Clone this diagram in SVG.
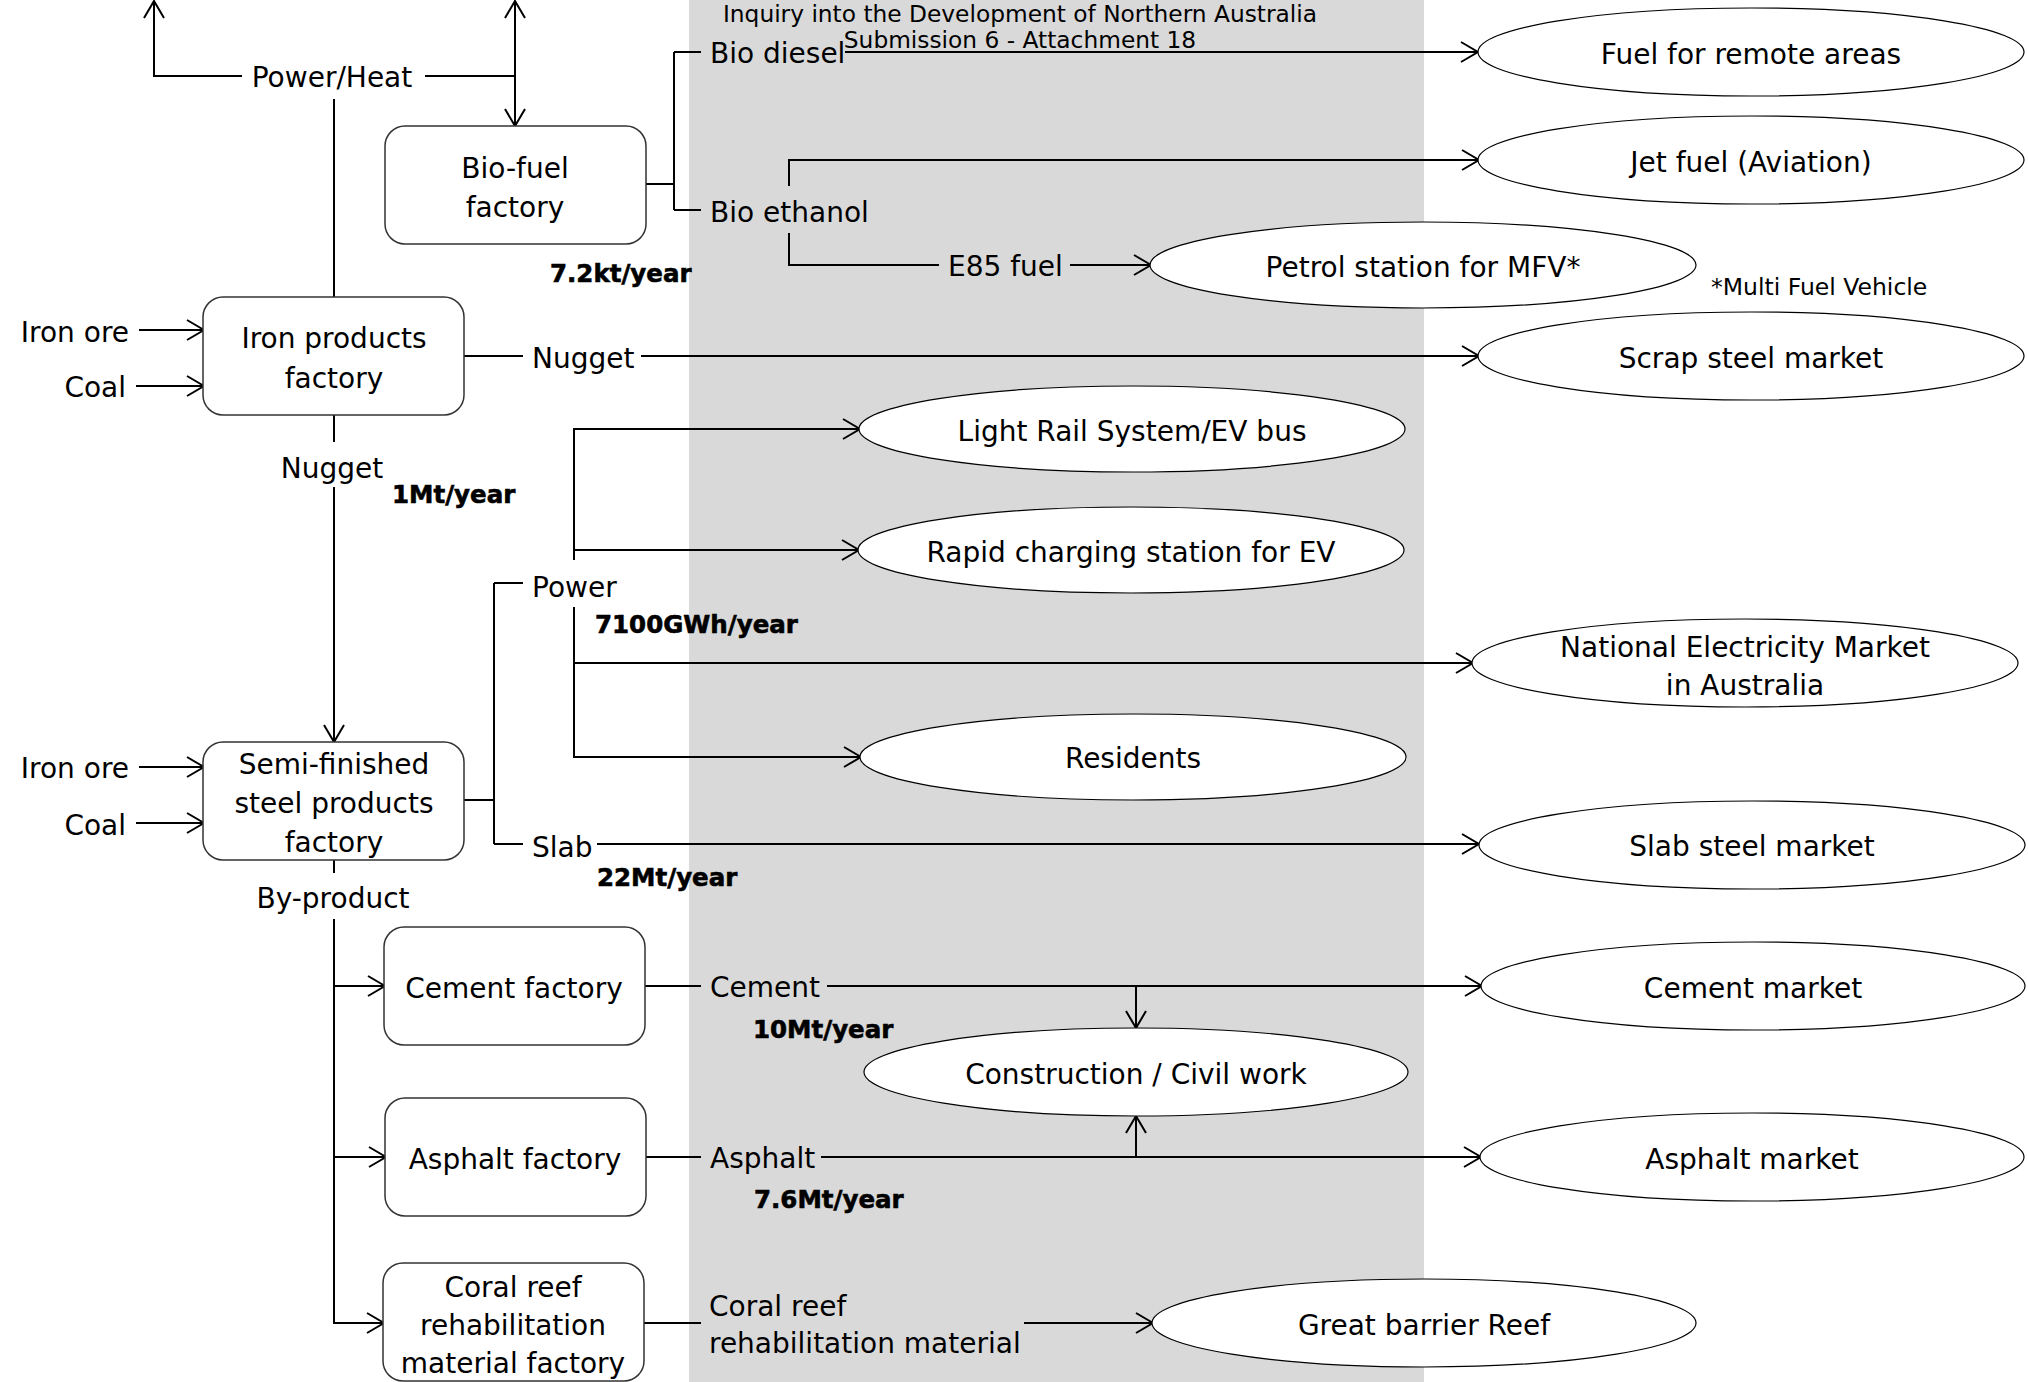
<svg xmlns="http://www.w3.org/2000/svg" width="2028" height="1382" viewBox="0 0 2028 1382">
<style>
text{font-family:"DejaVu Sans","Liberation Sans",sans-serif;font-size:28px;fill:#000}
.m{text-anchor:middle}
.e{text-anchor:end}
.b{font-weight:bold;font-size:24.5px;stroke:#000;stroke-width:0.6}
.t{font-size:23.3px}
.s{font-size:23.5px}
.box{fill:#fff;stroke:#333;stroke-width:1.5}
.ell{fill:#fff;stroke:#000;stroke-width:1.2}
.c path{fill:none;stroke:#000;stroke-width:2}
</style>
<defs>
<marker id="arr" viewBox="-20 -12 22 24" refX="-1" refY="0" markerWidth="22" markerHeight="24" markerUnits="userSpaceOnUse" orient="auto">
<path d="M-17,-10 L0,0 L-17,10" fill="none" stroke="#000" stroke-width="2"/>
</marker>
</defs>
<rect x="0" y="0" width="2028" height="1382" fill="#fff"/>
<rect id="band" x="689" y="0" width="735" height="1382" fill="#d9d9d9"/>

<g id="title">
<text class="t m" x="1020" y="22">Inquiry into the Development of Northern Australia</text>
<text class="t m" x="1020" y="48">Submission 6 - Attachment 18</text>
</g>

<g class="c" id="connectors">
<path d="M242,76 H154 V2" marker-end="url(#arr)"/>
<path d="M425,76 H515"/>
<path d="M515,76 V2" marker-end="url(#arr)"/>
<path d="M515,76 V125" marker-end="url(#arr)"/>
<path d="M334,99 V297"/>
<path d="M646,184 H674"/>
<path d="M674,52 V210"/>
<path d="M674,52 H701"/>
<path d="M674,210 H701"/>
<path d="M845,52 H1477" marker-end="url(#arr)"/>
<path d="M789,186 V160 H1478" marker-end="url(#arr)"/>
<path d="M789,233 V265 H939"/>
<path d="M1070,265 H1150" marker-end="url(#arr)"/>
<path d="M464,356 H523"/>
<path d="M641,356 H1478" marker-end="url(#arr)"/>
<path d="M139,330 H203" marker-end="url(#arr)"/>
<path d="M136,386 H203" marker-end="url(#arr)"/>
<path d="M334,415 V442"/>
<path d="M334,487 V741" marker-end="url(#arr)"/>
<path d="M139,767 H203" marker-end="url(#arr)"/>
<path d="M136,823 H203" marker-end="url(#arr)"/>
<path d="M464,800 H494"/>
<path d="M494,583 V844"/>
<path d="M494,583 H523"/>
<path d="M494,844 H523"/>
<path d="M597,844 H1478" marker-end="url(#arr)"/>
<path d="M574,560 V429 H859" marker-end="url(#arr)"/>
<path d="M574,550 H858" marker-end="url(#arr)"/>
<path d="M574,607 V757 H860" marker-end="url(#arr)"/>
<path d="M574,663 H1472" marker-end="url(#arr)"/>
<path d="M334,860 V873"/>
<path d="M334,919 V1323 H383" marker-end="url(#arr)"/>
<path d="M334,986 H384" marker-end="url(#arr)"/>
<path d="M334,1157 H385" marker-end="url(#arr)"/>
<path d="M645,986 H701"/>
<path d="M827,986 H1481" marker-end="url(#arr)"/>
<path d="M1136,986 V1027" marker-end="url(#arr)"/>
<path d="M646,1157 H701"/>
<path d="M821,1157 H1480" marker-end="url(#arr)"/>
<path d="M1136,1157 V1117" marker-end="url(#arr)"/>
<path d="M644,1323 H701"/>
<path d="M1024,1323 H1152" marker-end="url(#arr)"/>
</g>

<g id="labels">
<text class="m" x="332" y="87">Power/Heat</text>
<text x="710" y="63">Bio diesel</text>
<text x="710" y="222">Bio ethanol</text>
<text x="948" y="276">E85 fuel</text>
<text x="532" y="368">Nugget</text>
<text class="m" x="332" y="478">Nugget</text>
<text class="e" x="129" y="342">Iron ore</text>
<text class="e" x="126" y="397">Coal</text>
<text class="e" x="129" y="778">Iron ore</text>
<text class="e" x="126" y="835">Coal</text>
<text x="532" y="597">Power</text>
<text x="532" y="857">Slab</text>
<text class="m" x="333" y="908">By-product</text>
<text x="710" y="997">Cement</text>
<text x="710" y="1168">Asphalt</text>
<text x="709" y="1316">Coral reef</text>
<text x="709" y="1353">rehabilitation material</text>
<text class="s" x="1711" y="295">*Multi Fuel Vehicle</text>
<text class="b" x="550" y="282">7.2kt/year</text>
<text class="b" x="392" y="503">1Mt/year</text>
<text class="b" x="595" y="633">7100GWh/year</text>
<text class="b" x="597" y="886">22Mt/year</text>
<text class="b" x="753" y="1038">10Mt/year</text>
<text class="b" x="754" y="1208">7.6Mt/year</text>
</g>

<g id="biofuel"><rect class="box" x="385" y="126" width="261" height="118" rx="20"/><text class="m" x="515" y="178">Bio-fuel</text><text class="m" x="515" y="217">factory</text></g>
<g id="iron"><rect class="box" x="203" y="297" width="261" height="118" rx="20"/><text class="m" x="334" y="348">Iron products</text><text class="m" x="334" y="388">factory</text></g>
<g id="semi"><rect class="box" x="203" y="742" width="261" height="118" rx="20"/><text class="m" x="334" y="774">Semi-finished</text><text class="m" x="334" y="813">steel products</text><text class="m" x="334" y="852">factory</text></g>
<g id="cementf"><rect class="box" x="384" y="927" width="261" height="118" rx="20"/><text class="m" x="514" y="998">Cement factory</text></g>
<g id="asphaltf"><rect class="box" x="385" y="1098" width="261" height="118" rx="20"/><text class="m" x="515" y="1169">Asphalt factory</text></g>
<g id="coralf"><rect class="box" x="383" y="1263" width="261" height="118" rx="20"/><text class="m" x="513" y="1297">Coral reef</text><text class="m" x="513" y="1335">rehabilitation</text><text class="m" x="513" y="1373">material factory</text></g>

<g id="fuelremote"><ellipse class="ell" cx="1751" cy="52" rx="273" ry="44"/><text class="m" x="1751" y="64">Fuel for remote areas</text></g>
<g id="jetfuel"><ellipse class="ell" cx="1751" cy="160" rx="273" ry="44"/><text class="m" x="1751" y="172">Jet fuel (Aviation)</text></g>
<g id="petrol"><ellipse class="ell" cx="1423" cy="265" rx="273" ry="43"/><text class="m" x="1423" y="277">Petrol station for MFV*</text></g>
<g id="scrap"><ellipse class="ell" cx="1751" cy="356" rx="273" ry="44"/><text class="m" x="1751" y="368">Scrap steel market</text></g>
<g id="lightrail"><ellipse class="ell" cx="1132" cy="429" rx="273" ry="43"/><text class="m" x="1132" y="441">Light Rail System/EV bus</text></g>
<g id="rapid"><ellipse class="ell" cx="1131" cy="550" rx="273" ry="43"/><text class="m" x="1131" y="562">Rapid charging station for EV</text></g>
<g id="nem"><ellipse class="ell" cx="1745" cy="663" rx="273" ry="44"/><text class="m" x="1745" y="657">National Electricity Market</text><text class="m" x="1745" y="695">in Australia</text></g>
<g id="residents"><ellipse class="ell" cx="1133" cy="757" rx="273" ry="43"/><text class="m" x="1133" y="768">Residents</text></g>
<g id="slab"><ellipse class="ell" cx="1752" cy="845" rx="273" ry="44"/><text class="m" x="1752" y="856">Slab steel market</text></g>
<g id="cementm"><ellipse class="ell" cx="1753" cy="986" rx="272" ry="44"/><text class="m" x="1753" y="998">Cement market</text></g>
<g id="construction"><ellipse class="ell" cx="1136" cy="1072" rx="272" ry="44"/><text class="m" x="1136" y="1084">Construction / Civil work</text></g>
<g id="asphaltm"><ellipse class="ell" cx="1752" cy="1157" rx="272" ry="44"/><text class="m" x="1752" y="1169">Asphalt market</text></g>
<g id="reef"><ellipse class="ell" cx="1424" cy="1323" rx="272" ry="44"/><text class="m" x="1424" y="1335">Great barrier Reef</text></g>
</svg>
